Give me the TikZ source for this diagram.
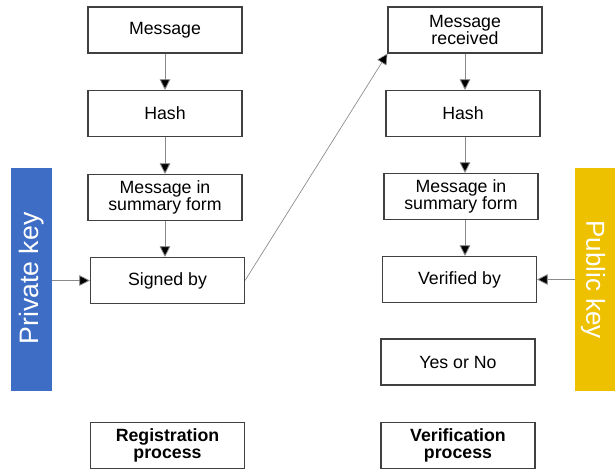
\documentclass[tikz,border=0pt]{standalone}
\usepackage{fontspec}
\setmainfont{Liberation Sans}
\usetikzlibrary{arrows.meta}
\definecolor{keyblue}{HTML}{3D6DC5}
\definecolor{keyyellow}{HTML}{EEC100}
\definecolor{boxline}{HTML}{404040}
\definecolor{conn}{HTML}{8A8A8A}
\tikzset{
  stepbox/.style={draw=boxline, line width=0.8pt, fill=white, minimum width=115.5pt, minimum height=34.5pt,
    inner sep=0pt, align=center, font=\fontsize{13.3}{13}\selectfont},
  titlebox/.style={stepbox, font=\fontsize{13.3}{13}\selectfont\bfseries},
  conn/.style={draw=conn, line width=0.6pt, -{Triangle[length=8pt,width=8pt,fill=black]}},
}
\begin{document}
\begin{tikzpicture}[x=0.75pt,y=-0.75pt]
\useasboundingbox (0,0) rectangle (615,469);
% left column
\node[stepbox] (m1) at (165,30) {Message};
\node[stepbox] (h1) at (165,113.5) {Hash};
\node[stepbox] (s1) at (165,197.5) {Message in\\summary form};
\node[stepbox] (sig) at (167.5,280.5) {Signed by};
\node[titlebox] (reg) at (167.5,445.5) {Registration\\process};
% right column
\node[stepbox] (m2) at (465,30) {Message\\received};
\node[stepbox] (h2) at (463,113.5) {Hash};
\node[stepbox] (s2) at (461,196.5) {Message in\\summary form};
\node[stepbox] (ver) at (459.5,279.5) {Verified by};
\node[stepbox] (yn) at (458,362) {Yes or No};
\node[titlebox] (vp) at (458,445.5) {Verification\\process};
% key bars
\node[fill=keyblue, minimum width=30.75pt, minimum height=167.25pt, inner sep=0pt] (priv) at (31.5,279.5) {};
\node[rotate=90, text=white, font=\fontsize{20}{20}\selectfont] (privt) at (31.5,278.5) {Private key};
\node[fill=keyyellow, minimum width=30pt, minimum height=167.25pt, inner sep=0pt] (pub) at (595,279.5) {};
\node[rotate=-90, text=white, font=\fontsize{19.5}{20}\selectfont] (pubt) at (593,279.5) {Public key};
% connectors
\draw[conn] (m1.south) -- (m1.south |- h1.north);
\draw[conn] (h1.south) -- (h1.south |- s1.north);
\draw[conn] (s1.south) -- (s1.south |- sig.north);
\draw[conn] (m2.south) -- (m2.south |- h2.north);
\draw[conn] (h2.south -| m2.south) -- (m2.south |- s2.north);
\draw[conn] (s2.south -| m2.south) -- (m2.south |- ver.north);
\draw[conn] (priv.east |- sig.west) -- (sig.west);
\draw[conn] (pub.west |- ver.east) -- (ver.east);
\draw[conn, line width=0.5pt] (sig.east) -- (m2.south west);
\end{tikzpicture}
\end{document}
